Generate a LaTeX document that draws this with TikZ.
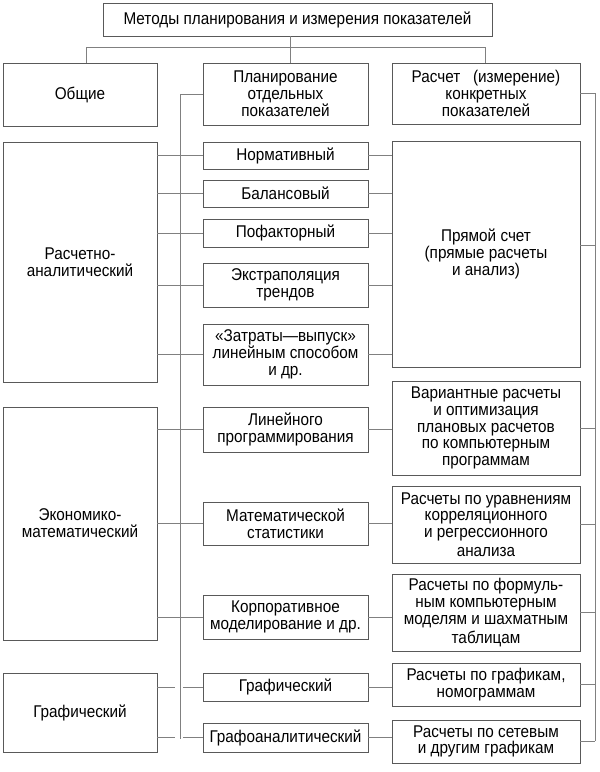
\documentclass[tikz,border=0pt]{standalone}
\usepackage{fontspec}
\setmainfont{Liberation Sans}[FakeStretch=0.9]
\usetikzlibrary{calc}
\begin{document}
\begin{tikzpicture}[x=1pt,y=-1pt,
  box/.style={draw=black!65, line width=0.8pt, inner sep=0pt, outer sep=0pt, align=center,
    font=\fontsize{17}{16.8}\selectfont, text=black},
  conn/.style={draw=black!50, line width=0.8pt}]
\useasboundingbox (0,0) rectangle (600,772);
\newcommand\bx[6]{\node[box, minimum width={(#4-#2)*1pt}, minimum height={(#5-#3)*1pt}] (#1) at ({(#2+#4)/2},{(#3+#5)/2}) {#6};}
% top
\bx{top}{103}{3}{492}{36}{Методы планирования и измерения показателей}
% row 2
\bx{obsh}{3}{63}{157}{126}{Общие}
\bx{plan}{203}{63}{368}{125}{Планирование\\отдельных\\показателей}
\bx{rasc}{392}{63}{580}{124}{Расчет\ \ \ (измерение)\\конкретных\\показателей}
% left column
\bx{ra}{3}{142}{157}{382}{Расчетно-\\аналитический}
\bx{em}{3}{407}{157}{640}{Экономико-\\математический}
\bx{gl}{3}{673}{157}{752}{Графический}
% middle column
\bx{norm}{203}{142}{368}{169}{Нормативный}
\bx{bal}{203}{180}{368}{207}{Балансовый}
\bx{pof}{203}{219}{368}{247}{Пофакторный}
\bx{ext}{203}{263}{368}{307}{Экстраполяция\\трендов}
\bx{zat}{203}{324}{368}{385}{«Затраты—выпуск»\\линейным способом\\и др.}
\bx{lin}{203}{407}{368}{452}{Линейного\\программирования}
\bx{mat}{203}{502}{368}{545}{Математической\\статистики}
\bx{kor}{203}{595}{368}{639}{Корпоративное\\моделирование и др.}
\bx{gm}{203}{673}{368}{701}{Графический}
\bx{gam}{203}{723}{368}{752}{Графоаналитический}
% right column
\bx{pr}{392}{141}{580}{367}{Прямой счет\\(прямые расчеты\\и анализ)}
\bx{var}{392}{381}{580}{475}{Вариантные расчеты\\и оптимизация\\плановых расчетов\\по компьютерным\\программам}
\bx{ur}{392}{486}{580}{563}{Расчеты по уравнениям\\корреляционного\\и регрессионного\\[2pt]анализа}
\bx{fo}{392}{574}{580}{651}{Расчеты по формуль-\\ным компьютерным\\моделям и шахматным\\[2pt]таблицам}
\bx{gr}{392}{663}{580}{706}{Расчеты по графикам,\\номограммам}
\bx{se}{392}{720}{580}{763}{Расчеты по сетевым\\и другим графикам}
% coordinates
\coordinate (ta) at (86,47);
\coordinate (tb) at (485,47);
\coordinate (tm) at (290,47);
\coordinate (lb) at (180,739);
\coordinate (rb) at (595,741);
% top connectors
\draw[conn] (top.south -| tm) -- (plan.north -| tm);
\draw[conn] (obsh.north -| ta) -- (ta) -- (tb) -- (rasc.north -| tb);
% left stubs
\foreach \a/\b in {ra/norm, ra/bal, ra/pof, ra/ext, ra/zat, em/lin, em/mat, em/kor, gl/gm, gl/gam}
  \draw[conn] (\a.east |- \b.west) -- (\b.west);
% gaps at crossing
\foreach \b in {gm, gam}
  \draw[white, line width=1.6pt] ($(\b.west -| lb)+(-5,0)$) -- ($(\b.west -| lb)+(3,0)$);
% left bus
\draw[conn] (plan.west) -| (lb);
% middle to right
\foreach \a/\b in {norm/pr, bal/pr, pof/pr, ext/pr, zat/pr, lin/var, mat/ur, kor/fo, gm/gr, gam/se}
  \draw[conn] (\a.east) -- (\a.east -| \b.west);
% right bus
\draw[conn] (rasc.east) -| (rb);
\draw[conn] ($(pr.east)+(0,-9)$) -- ($(pr.east -| rb)+(0,-9)$);
\foreach \b in {var, ur, fo, gr, se}
  \draw[conn] (\b.east) -- (\b.east -| rb);
\end{tikzpicture}
\end{document}
